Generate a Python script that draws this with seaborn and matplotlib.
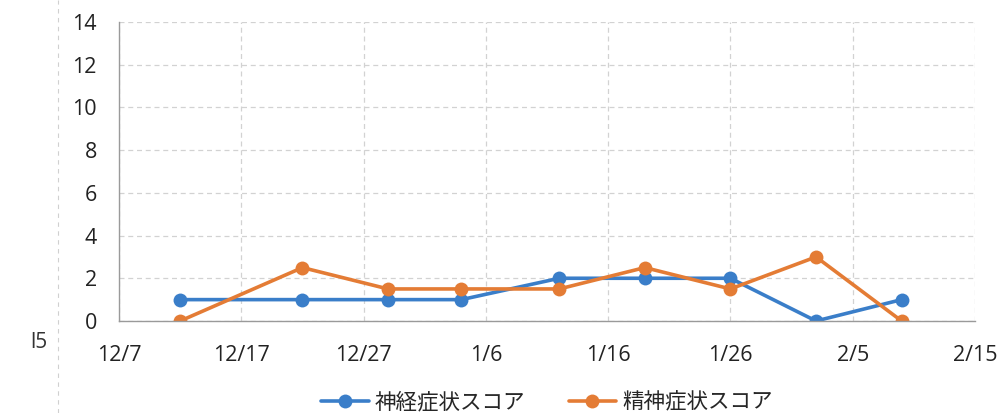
import matplotlib
matplotlib.use("Agg")
import matplotlib.pyplot as plt
import matplotlib.dates as mdates
from matplotlib.lines import Line2D
from matplotlib.ticker import FuncFormatter
import seaborn as sns
import pandas as pd

# ---- data ----
dates = ["2019-12-12", "2019-12-22", "2019-12-29", "2020-01-04", "2020-01-12",
         "2020-01-19", "2020-01-26", "2020-02-02", "2020-02-09"]
neuro_scores = [1, 1, 1, 1, 2, 2, 2, 0, 1]
mental_scores = [0, 2.5, 1.5, 1.5, 1.5, 2.5, 1.5, 3, 0]
series_names = ["神経症状スコア", "精神症状スコア"]
x_tick_dates = ["2019-12-07", "2019-12-17", "2019-12-27", "2020-01-06", "2020-01-16",
                "2020-01-26", "2020-02-05", "2020-02-15"]
y_ticks = [0, 2, 4, 6, 8, 10, 12, 14]

df = pd.DataFrame({
    "date": pd.to_datetime(dates * 2),
    "score": neuro_scores + mental_scores,
    "series": [series_names[0]] * len(dates) + [series_names[1]] * len(dates),
})

sns.set_theme(style="white")
plt.rcParams["font.family"] = ["Noto Sans CJK JP", "DejaVu Sans"]

blue = "#3A7EC9"
orange = "#E47C35"
palette = {series_names[0]: blue, series_names[1]: orange}

fig = plt.figure(figsize=(10, 4.13), dpi=100)
ax = fig.add_axes([0.119, 0.2228, 0.856, 0.724])

sns.lineplot(data=df, x="date", y="score", hue="series", palette=palette,
             marker="o", markersize=10, markeredgewidth=0, linewidth=2.6,
             dashes=False, ax=ax, legend=False)

xt = pd.to_datetime(x_tick_dates)
ax.set_xlim(xt[0], xt[-1])
ax.set_ylim(0, 14)
ax.set_xticks(xt)
ax.xaxis.set_major_formatter(FuncFormatter(
    lambda v, p: f"{mdates.num2date(v).month}/{mdates.num2date(v).day}"))
ax.set_yticks(y_ticks)
ax.set_xlabel("")
ax.set_ylabel("")

ax.grid(True, color="#d2d2d2", linestyle=(0, (4, 3)), linewidth=0.9)
for s in ["top", "right"]:
    ax.spines[s].set_visible(False)
ax.spines["left"].set_color("#9a9a9a")
ax.spines["bottom"].set_color("#9a9a9a")
ax.spines["left"].set_linewidth(1.0)
ax.spines["bottom"].set_linewidth(1.0)
ax.tick_params(axis="both", length=0, labelsize=15.5, colors="#222222")
ax.tick_params(axis="x", pad=17)
ax.tick_params(axis="y", pad=16)
for lab in ax.get_xticklabels() + ax.get_yticklabels():
    lab.set_fontfamily(["Open Sans", "DejaVu Sans"])

handles = [Line2D([0], [0], color=blue, lw=2.6, marker="o", markersize=10, markeredgewidth=0),
           Line2D([0], [0], color=orange, lw=2.6, marker="o", markersize=10, markeredgewidth=0)]
fig.legend(handles, series_names, loc="center", bbox_to_anchor=(0.547, 0.025), ncol=2,
           frameon=False, fontsize=15.5, handlelength=2.2, columnspacing=2.0,
           handletextpad=0.3)

# scan artefacts
fig.text(0.03, 0.17, "l5", fontsize=15, color="#333333", va="center",
         fontfamily=["Open Sans", "DejaVu Sans"])
fig.add_artist(Line2D([0.058, 0.058], [0.0, 1.0], transform=fig.transFigure,
                      color="#d0d0d0", lw=0.8, linestyle=(0, (4, 4))))

fig.savefig("out.png", dpi=100)
